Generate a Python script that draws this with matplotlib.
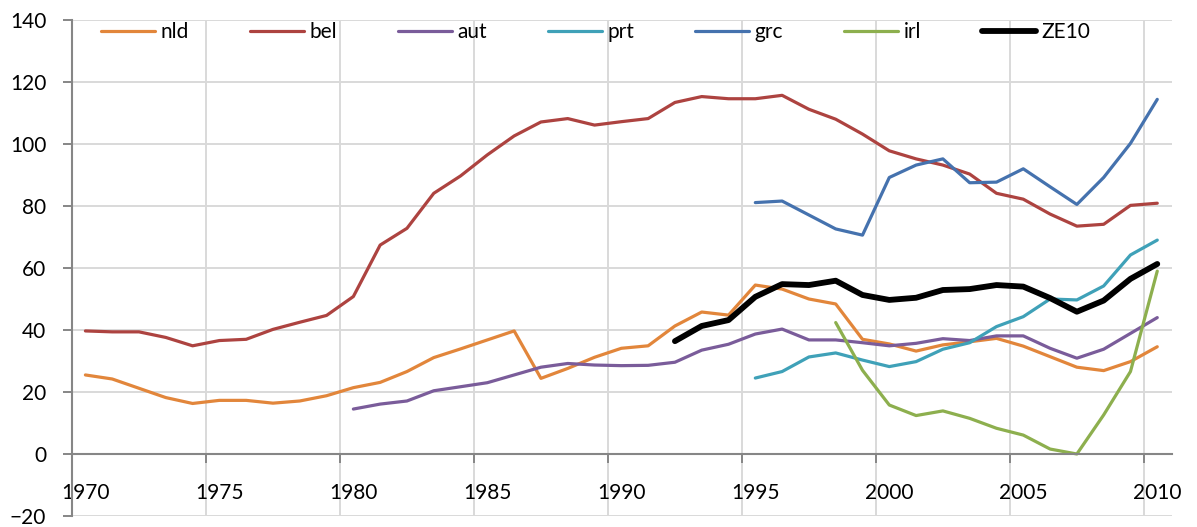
import numpy as np
import matplotlib
matplotlib.use("Agg")
import matplotlib.pyplot as plt

plt.rcParams['font.family'] = ['Lato', 'DejaVu Sans']

# values (one value per year from the start year)
nld_start = 1970
nld = [25.5, 24.2, 21.2, 18.2, 16.3, 17.3, 17.3, 16.4, 17.1, 18.8,
       21.4, 23.1, 26.6, 31.1, 33.9, 36.8, 39.7, 24.4, 27.6, 31.2,
       34.1, 34.9, 41.3, 45.8, 44.8, 54.5, 53.2, 50.0, 48.4, 37.0,
       35.5, 33.2, 35.2, 36.2, 37.3, 34.8, 31.4, 28.0, 26.9, 29.8, 34.6]
bel_start = 1970
bel = [39.7, 39.4, 39.4, 37.6, 34.9, 36.6, 37.0, 40.2, 42.5, 44.7,
       50.8, 67.4, 72.8, 84.1, 89.7, 96.5, 102.6, 107.1, 108.2, 106.1,
       107.2, 108.2, 113.4, 115.3, 114.6, 114.6, 115.7, 111.2, 108.0, 103.2,
       97.8, 95.2, 93.2, 90.3, 84.1, 82.2, 77.4, 73.5, 74.1, 80.2, 80.9]
aut_start = 1980
aut = [14.5, 16.1, 17.1, 20.4, 21.7, 23.0, 25.5, 28.0, 29.2, 28.7,
       28.5, 28.6, 29.6, 33.5, 35.4, 38.7, 40.3, 36.8, 36.8, 35.9,
       34.9, 35.7, 37.2, 36.6, 38.1, 38.1, 34.1, 30.9, 33.8, 38.9, 44.0]
prt_start = 1995
prt = [24.5, 26.6, 31.3, 32.6, 30.3, 28.2, 29.8, 33.8, 35.9, 41.1,
       44.3, 50.0, 49.7, 54.2, 64.2, 69.0]
grc_start = 1995
grc = [81.1, 81.6, 77.1, 72.6, 70.6, 89.2, 93.2, 95.2, 87.5, 87.7,
       92.0, 86.2, 80.5, 89.2, 100.2, 114.4]
irl_start = 1998
irl = [42.4, 27.0, 15.8, 12.4, 13.9, 11.5, 8.3, 6.1, 1.6, 0.0, 12.6, 26.6, 59.0]
ze10_start = 1992
ze10 = [36.4, 41.3, 43.2, 50.7, 54.8, 54.5, 55.9, 51.3, 49.7, 50.4,
        52.9, 53.2, 54.5, 54.0, 50.3, 45.9, 49.5, 56.5, 61.3]

year_labels = [1970, 1975, 1980, 1985, 1990, 1995, 2000, 2005, 2010]
y_ticks = [-20, 0, 20, 40, 60, 80, 100, 120, 140]

series = [
    ("nld", nld_start, nld, '#E2863B', 2.3),
    ("bel", bel_start, bel, '#AD4340', 2.3),
    ("aut", aut_start, aut, '#7A5C9A', 2.3),
    ("prt", prt_start, prt, '#3FA1B8', 2.3),
    ("grc", grc_start, grc, '#4572AE', 2.3),
    ("irl", irl_start, irl, '#8DAF4E', 2.3),
    ("ZE10", ze10_start, ze10, '#000000', 4.2),
]

fig = plt.figure(figsize=(11.97, 5.27), dpi=100)
ax = fig.add_axes([72/1197, 11/527, 1100/1197, 496/527])

for name, start, vals, col, lw in series:
    x = np.arange(start, start + len(vals))
    ax.plot(x, vals, color=col, lw=lw, label=name,
            solid_joinstyle='round', solid_capstyle='round')

ax.set_xlim(1969.5, 2010.55)
ax.set_ylim(-20, 140)

# gridlines / ticks on category boundaries, labels centred on the year
ax.set_xticks([y - 0.5 for y in year_labels])
ax.set_xticklabels([])
ax.set_xticks(year_labels, minor=True)
ax.set_xticklabels([str(y) for y in year_labels], minor=True)
ax.tick_params(axis='x', which='major', direction='out', length=6.5, width=1.4, color='#868686')
ax.tick_params(axis='x', which='minor', length=0, pad=21, labelsize=15)
ax.set_yticks(y_ticks)
ax.tick_params(axis='y', direction='out', length=6.5, width=1.4, color='#868686', pad=12, labelsize=15)

ax.grid(True, which='major', color='#d9d9d9', lw=1.4)
ax.set_axisbelow(True)

for s in ['top', 'right']:
    ax.spines[s].set_visible(False)
ax.spines['bottom'].set_position(('data', 0))
ax.spines['bottom'].set_color('#868686')
ax.spines['bottom'].set_linewidth(1.5)
ax.spines['left'].set_color('#868686')
ax.spines['left'].set_linewidth(1.5)

ax.legend(loc='center left', bbox_to_anchor=(29/1100, 1 - 12/496), ncol=7,
          frameon=False, fontsize=15, handlelength=2.6, handletextpad=0.25,
          columnspacing=2.93, borderpad=0, borderaxespad=0)

plt.savefig("out.png", dpi=100)
plt.close()
